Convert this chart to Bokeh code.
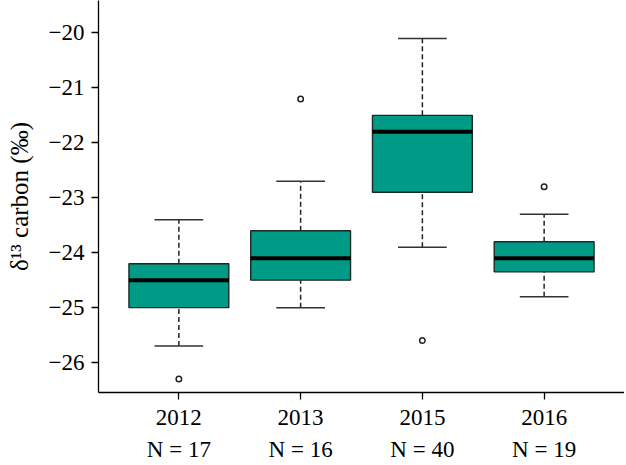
from bokeh.plotting import figure
from bokeh.models import FixedTicker, ColumnDataSource
from bokeh.embed import file_html
from bokeh.resources import INLINE

years = ["2012", "2013", "2015", "2016"]
counts = [17, 16, 40, 19]
lower_whisker = [-25.7, -25.0, -23.9, -24.8]
q1 = [-25.0, -24.5, -22.9, -24.35]
median = [-24.5, -24.1, -21.8, -24.1]
q3 = [-24.2, -23.6, -21.5, -23.8]
upper_whisker = [-23.4, -22.7, -20.1, -23.3]
outlier_group = [1, 2, 3, 4]
outlier_value = [-26.3, -21.2, -25.6, -22.8]
y_ticks = [-26, -25, -24, -23, -22, -21, -20]

pos = [1, 2, 3, 4]
FILL = "#009B86"
FONT = "Liberation Serif"

p = figure(width=624, height=465, output_backend="svg", toolbar_location=None,
           x_range=(0.34, 4.66), y_range=(-26.545, -19.409),
           min_border_left=98, min_border_right=0, min_border_top=0, min_border_bottom=72)
p.outline_line_color = None
p.grid.visible = False
p.background_fill_color = "white"
p.border_fill_color = "white"

src = ColumnDataSource(dict(x=pos, lw=lower_whisker, q1=q1, med=median, q3=q3, uw=upper_whisker,
                            xl=[v - 0.41 for v in pos], xr=[v + 0.41 for v in pos],
                            cl=[v - 0.2 for v in pos], cr=[v + 0.2 for v in pos]))

# whiskers (dashed)
p.segment(x0="x", y0="q3", x1="x", y1="uw", source=src, line_color="#222222",
          line_width=1.5, line_dash="5 3")
p.segment(x0="x", y0="lw", x1="x", y1="q1", source=src, line_color="#222222",
          line_width=1.5, line_dash="5 3")
# caps
p.segment(x0="cl", y0="uw", x1="cr", y1="uw", source=src, line_color="#333333", line_width=1.5)
p.segment(x0="cl", y0="lw", x1="cr", y1="lw", source=src, line_color="#333333", line_width=1.5)
# boxes
p.vbar(x="x", bottom="q1", top="q3", width=0.82, source=src, fill_color=FILL,
       line_color="#1a2a25", line_width=1.4)
# median
p.segment(x0="xl", y0="med", x1="xr", y1="med", source=src, line_color="black", line_width=4)
# outliers
p.scatter(outlier_group, outlier_value, marker="circle", size=5.5, fill_color="white",
          line_color="#222222", line_width=1.5)

# axes
for ax in (p.xaxis[0], p.yaxis[0]):
    ax.axis_line_color = "black"
    ax.axis_line_width = 1.3
    ax.major_tick_line_color = "black"
    ax.major_tick_line_width = 1.3
    ax.major_tick_in = 0
    ax.major_tick_out = 7
    ax.minor_tick_line_color = None
    ax.major_label_text_font = FONT
    ax.major_label_text_font_size = "23px"
    ax.major_label_text_color = "black"

p.yaxis[0].ticker = FixedTicker(ticks=y_ticks)
p.yaxis[0].major_label_overrides = {t: "\u2212" + str(abs(t)) for t in y_ticks}
p.yaxis[0].major_label_standoff = 7
p.yaxis[0].axis_label = "\u03b4\u00b9\u00b3 carbon (\u2030)"
p.yaxis[0].axis_label_text_font = FONT
p.yaxis[0].axis_label_text_font_style = "normal"
p.yaxis[0].axis_label_text_font_size = "25px"
p.yaxis[0].axis_label_text_color = "black"
p.yaxis[0].axis_label_standoff = 13

p.xaxis[0].ticker = FixedTicker(ticks=pos)
p.xaxis[0].major_label_overrides = {x: f"{y}\nN = {n}" for x, y, n in zip(pos, years, counts)}
p.xaxis[0].major_label_text_line_height = 1.3
p.xaxis[0].major_label_standoff = 5

open("out.html", "w").write(file_html(p, INLINE))
